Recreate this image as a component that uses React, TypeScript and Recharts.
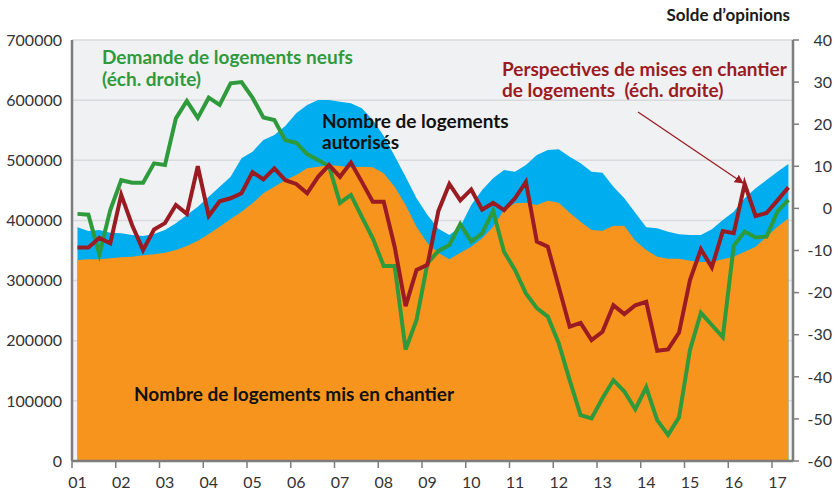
import React from 'react';
import { ComposedChart, Area, Line, XAxis, YAxis, CartesianGrid } from 'recharts';

// Quarterly series, 2001 Q1 -> 2017 Q2
const startYear = 2001;

// Nombre de logements autorisés (blue area, left scale)
const authorized = [
  388600, 382400, 384100, 379600, 378600, 375800, 374100, 377400, 384100, 395200,
  409000, 422800, 439500, 456100, 472700, 503300, 514300, 533700, 542000, 557000,
  578100, 592000, 600200, 600200, 597400, 594700, 586400, 567000, 540400, 507100,
  472700, 436800, 409000, 386000, 375800, 389600, 425600, 450600, 470000, 483800,
  481000, 492200, 508800, 517100, 518200, 506000, 495000, 481000, 479400, 456100,
  436800, 412900, 388600, 386900, 381300, 376900, 375800, 375800, 385200, 400700,
  414500, 436800, 453400, 467200, 481000, 493800,
];

// Nombre de logements mis en chantier (orange area, left scale)
const started = [
  334200, 335400, 335400, 337000, 338700, 339800, 342000, 343700, 346400, 350800,
  357500, 366300, 377400, 389600, 402400, 414500, 428500, 445100, 456100, 467200,
  475500, 486700, 489300, 492200, 490500, 488300, 489300, 488300, 478400, 456100,
  425600, 389600, 362000, 346000, 335400, 346400, 356400, 370300, 389600, 417300,
  428500, 429500, 425600, 432800, 429500, 412900, 397900, 384100, 382900, 391000,
  390700, 366300, 350800, 339800, 336400, 336400, 333100, 330900, 330900, 335400,
  339800, 348000, 356400, 373000, 389600, 403500,
];

// Demande de logements neufs (green line, right scale)
const demand = [
  -1.3, -1.5, -10.9, -0.4, 6.7, 6.1, 6.1, 10.7, 10.3, 21.4,
  25.5, 21.5, 26.3, 24.6, 29.7, 30.0, 26.3, 21.6, 21.0, 16.2,
  15.6, 12.9, 11.5, 10.0, 1.3, 3.2, -2.0, -7.1, -13.7, -13.7,
  -33.5, -26.5, -13.0, -10.1, -8.7, -3.7, -7.9, -5.9, -0.6, -10.3,
  -14.6, -20.2, -23.7, -25.7, -32.0, -40.8, -49.1, -49.9, -45.1, -40.8,
  -43.5, -47.7, -42.5, -50.3, -53.8, -49.6, -33.6, -24.8, -27.7, -30.6,
  -8.9, -5.5, -6.9, -6.7, -0.7, 2.0,
];

// Perspectives de mises en chantier (dark red line, right scale)
const prospects = [
  -9.3, -9.3, -7.0, -8.3, 3.2, -4.0, -9.9, -5.0, -3.5, 0.8,
  -1.3, 10.0, -1.8, 1.7, 2.4, 3.6, 8.6, 6.9, 9.5, 6.7,
  5.8, 3.6, 7.5, 10.3, 7.5, 10.9, 6.3, 1.6, 1.6, -9.1,
  -23.2, -14.6, -13.4, -0.6, 5.8, 1.9, 4.5, -0.3, 1.3, -0.4,
  2.4, 6.3, -7.9, -9.1, -18.6, -28.1, -27.2, -31.3, -29.3, -23.0,
  -25.1, -23.0, -22.2, -33.8, -33.5, -29.5, -17.0, -9.7, -14.0, -5.4,
  -5.9, 5.8, -1.8, -1.1, 1.9, 5.0,
];

const yearTicks = [2001, 2002, 2003, 2004, 2005, 2006, 2007, 2008, 2009, 2010, 2011, 2012, 2013, 2014, 2015, 2016, 2017];
const yearLabels = ['01', '02', '03', '04', '05', '06', '07', '08', '09', '10', '11', '12', '13', '14', '15', '16', '17'];
const leftTicks = [0, 100000, 200000, 300000, 400000, 500000, 600000, 700000];
const rightTicks = [-60, -50, -40, -30, -20, -10, 0, 10, 20, 30, 40];

const data = authorized.map((a, i) => ({
  t: startYear + (i + 0.5) / 4,
  authorized: a,
  started: started[i],
  demand: demand[i],
  prospects: prospects[i],
}));

const FONT = 'Lato, "Open Sans", sans-serif';
const TICK_COLOR = '#333333';
const AXIS_COLOR = '#7d7d7d';
const BLUE = '#00adef';
const ORANGE = '#f7941d';
const GREEN = '#2f9a3c';
const RED = '#9b1b22';

const XTick = (props: any) => {
  const { x, y, payload } = props;
  const idx = yearTicks.indexOf(payload.value);
  return (
    <text x={x + 5.5} y={y + 20} textAnchor="middle" fontFamily={FONT} fontSize={16} fill={TICK_COLOR}>
      {yearLabels[idx]}
    </text>
  );
};

const RightTick = (props: any) => {
  const { y, payload } = props;
  return (
    <text x={832} y={y} dy="0.36em" textAnchor="end" fontFamily={FONT} fontSize={16} fill={TICK_COLOR}>
      {payload.value}
    </text>
  );
};

export default function App() {
  return (
    <div style={{ position: 'absolute', left: 0, top: 0, width: 833, height: 492, background: '#fff' }}>
      <ComposedChart
        width={833}
        height={492}
        data={data}
        margin={{ top: 40, right: 0, bottom: 0, left: 0 }}
      >
        <CartesianGrid
          yAxisId="left"
          vertical={false}
          horizontal={true}
          fill="#f0f1f3"
          stroke="#d9dadd"
          strokeWidth={1.5}
        />
        <XAxis
          dataKey="t"
          type="number"
          domain={[2001, 2017.48]}
          ticks={yearTicks}
          allowDataOverflow
          height={31}
          axisLine={{ stroke: AXIS_COLOR, strokeWidth: 2.5 }}
          tickLine={{ stroke: AXIS_COLOR, strokeWidth: 1.5 }}
          tickSize={7}
          tickMargin={0}
          tick={<XTick />}
          interval={0}
        />
        <YAxis
          yAxisId="left"
          orientation="left"
          domain={[0, 700000]}
          ticks={leftTicks}
          width={72}
          axisLine={{ stroke: AXIS_COLOR, strokeWidth: 2.5 }}
          tickLine={false}
          tickSize={6}
          tickMargin={4}
          tick={{ fill: TICK_COLOR, fontSize: 16, fontFamily: FONT }}
          interval={0}
        />
        <YAxis
          yAxisId="right"
          orientation="right"
          domain={[-60, 40]}
          ticks={rightTicks}
          width={40}
          axisLine={{ stroke: AXIS_COLOR, strokeWidth: 2.5 }}
          tickLine={{ stroke: AXIS_COLOR, strokeWidth: 1.5 }}
          tickSize={6}
          tickMargin={4}
          tick={<RightTick />}
          interval={0}
        />
        <Area
          yAxisId="left"
          type="linear"
          dataKey="authorized"
          stroke="none"
          fill={BLUE}
          fillOpacity={1}
          isAnimationActive={false}
        />
        <Area
          yAxisId="left"
          type="linear"
          dataKey="started"
          stroke="none"
          fill={ORANGE}
          fillOpacity={1}
          isAnimationActive={false}
        />
        <Line
          yAxisId="right"
          type="linear"
          dataKey="demand"
          stroke={GREEN}
          strokeWidth={4}
          dot={false}
          isAnimationActive={false}
        />
        <Line
          yAxisId="right"
          type="linear"
          dataKey="prospects"
          stroke={RED}
          strokeWidth={4}
          dot={false}
          isAnimationActive={false}
        />
      </ComposedChart>
      <svg
        width={833}
        height={492}
        style={{ position: 'absolute', left: 0, top: 0, pointerEvents: 'none' }}
      >
        <defs>
          <marker id="arrowHead" viewBox="0 0 10 10" refX="9" refY="5" markerWidth="9" markerHeight="9" orient="auto" markerUnits="userSpaceOnUse">
            <path d="M0,0 L10,5 L0,10 z" fill={RED} />
          </marker>
        </defs>
        <text x={790} y={21} textAnchor="end" fontFamily={FONT} fontWeight={700} fontSize={17} fill="#1a1a1a">
          Solde d’opinions
        </text>
        <text fontFamily={FONT} fontWeight={700} fontSize={19} fill={GREEN}>
          <tspan x={102} y={64}>Demande de logements neufs</tspan>
          <tspan x={102} y={86}>(éch. droite)</tspan>
        </text>
        <text fontFamily={FONT} fontWeight={700} fontSize={19} fill="#111">
          <tspan x={322} y={128}>Nombre de logements</tspan>
          <tspan x={322} y={149}>autorisés</tspan>
        </text>
        <text fontFamily={FONT} fontWeight={700} fontSize={19} fill={RED}>
          <tspan x={502} y={76}>Perspectives de mises en chantier</tspan>
          <tspan x={502} y={97}>{'de logements\u00a0\u00a0(éch. droite)'}</tspan>
        </text>
        <text x={134} y={401} fontFamily={FONT} fontWeight={700} fontSize={19} fill="#111">
          Nombre de logements mis en chantier
        </text>
        <line x1={638} y1={112} x2={743} y2={183} stroke={RED} strokeWidth={1.3} markerEnd="url(#arrowHead)" />
      </svg>
    </div>
  );
}
